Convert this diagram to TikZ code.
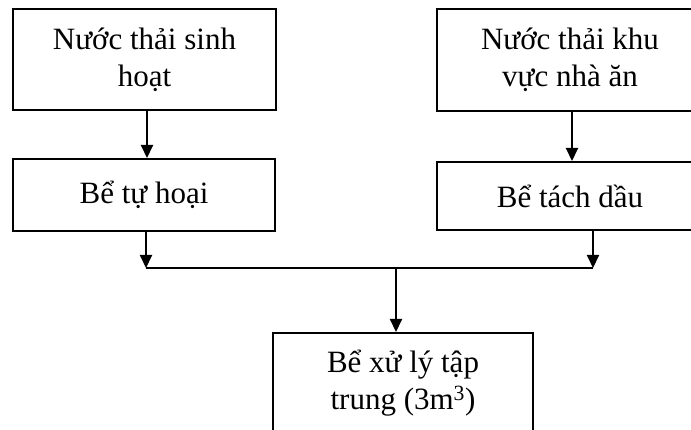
\documentclass[tikz,border=0pt]{standalone}
\usepackage{fontspec}
\setmainfont{Liberation Serif}
\usetikzlibrary{arrows.meta}
\begin{document}
\begin{tikzpicture}[x=1pt,y=-1pt,
  box/.style={draw,line width=2pt,rectangle,inner sep=0pt,align=center,
              font=\fontsize{31}{37}\selectfont},
  flow/.style={line width=2pt,-{Triangle[length=13pt,width=12pt]}},
  link/.style={line width=2pt}]
\useasboundingbox (0,0) rectangle (691,430);
\clip (0,0) rectangle (691,430);

% sources
\node[box,minimum width=263pt,minimum height=101pt] (src1) at (144.5,59.5)
  {Nước thải sinh\\hoạt};
\node[box,minimum width=266pt,minimum height=102pt] (src2) at (570,60)
  {Nước thải khu\\vực nhà ăn};

% pre-treatment tanks
\node[box,minimum width=262pt,minimum height=72pt] (tank1) at (144,195)
  {Bể tự hoại};
\node[box,minimum width=266pt,minimum height=68pt] (tank2) at (570,196)
  {Bể tách dầu};

% central treatment tank
\node[box,minimum width=260pt,minimum height=100pt] (main) at (403,383)
  {Bể xử lý tập\\trung (3m\textsuperscript{3})};

% collector junctions
\coordinate (jl) at (146,268);
\coordinate (jr) at (593,268);
\coordinate (jm) at (396,268);

\draw[flow] ([xshift=2.5pt]src1.south) -- ([xshift=2.5pt]src1.south |- tank1.north);
\draw[flow] ([xshift=2pt]src2.south) -- ([xshift=2pt]src2.south |- tank2.north);
\draw[flow] (tank1.south -| jl) -- (jl);
\draw[flow] (tank2.south -| jr) -- (jr);
\draw[link] (jl) -- (jr);
\draw[flow] (jm) -- (jm |- main.north);
\end{tikzpicture}
\end{document}
